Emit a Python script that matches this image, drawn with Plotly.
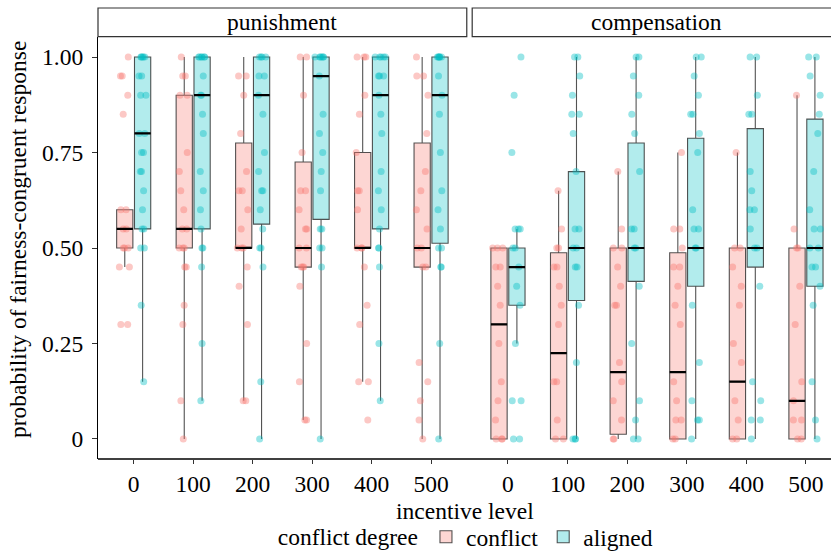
import plotly.graph_objects as go

levels = ["0", "100", "200", "300", "400", "500"]

# Box statistics
pun_conf_q1 = [0.5, 0.5, 0.5, 0.45, 0.5, 0.45]
pun_conf_med = [0.55, 0.55, 0.5, 0.5, 0.5, 0.5]
pun_conf_q3 = [0.6, 0.9, 0.775, 0.725, 0.75, 0.775]
pun_conf_lo = [0.45, 0.0, 0.1, 0.05, 0.15, 0.0]
pun_conf_hi = [0.6, 1.0, 1.0, 1.0, 1.0, 1.0]

pun_alig_q1 = [0.55, 0.55, 0.5625, 0.575, 0.55, 0.5125]
pun_alig_med = [0.8, 0.9, 0.9, 0.95, 0.9, 0.9]
pun_alig_q3 = [1.0, 1.0, 1.0, 1.0, 1.0, 1.0]
pun_alig_lo = [0.15, 0.1, 0.0, 0.0, 0.1, 0.0]
pun_alig_hi = [1.0, 1.0, 1.0, 1.0, 1.0, 1.0]

com_conf_q1 = [0.0, 0.0, 0.0125, 0.0, 0.0, 0.0]
com_conf_med = [0.3, 0.225, 0.175, 0.175, 0.15, 0.1]
com_conf_q3 = [0.5, 0.4875, 0.5, 0.4875, 0.5, 0.5]
com_conf_lo = [0.0, 0.0, 0.0, 0.0, 0.0, 0.0]
com_conf_hi = [0.5, 0.65, 0.7, 0.75, 0.75, 0.9]

com_alig_q1 = [0.35, 0.3625, 0.4125, 0.4, 0.45, 0.4]
com_alig_med = [0.45, 0.5, 0.5, 0.5, 0.5, 0.5]
com_alig_q3 = [0.5, 0.7, 0.775, 0.7875, 0.8125, 0.8375]
com_alig_lo = [0.25, 0.0, 0.0, 0.0, 0.0, 0.0]
com_alig_hi = [0.55, 1.0, 1.0, 1.0, 1.0, 1.0]

# Individual responses (one list per incentive level)
pun_conf_pts = [
    [1.0, 0.95, 0.95, 0.9, 0.85, 0.6, 0.6, 0.55, 0.55, 0.5, 0.5, 0.5, 0.45, 0.45, 0.3, 0.3],
    [1.0, 0.95, 0.95, 0.9, 0.9, 0.75, 0.7, 0.65, 0.6, 0.55, 0.55, 0.5, 0.5, 0.5, 0.45, 0.45, 0.35, 0.3, 0.1, 0.0],
    [0.95, 0.95, 0.9, 0.8, 0.7, 0.65, 0.65, 0.6, 0.55, 0.5, 0.5, 0.5, 0.45, 0.4, 0.3, 0.1, 0.1],
    [1.0, 1.0, 0.9, 0.75, 0.65, 0.65, 0.6, 0.55, 0.55, 0.5, 0.5, 0.45, 0.45, 0.45, 0.4, 0.25, 0.15, 0.05, 0.05],
    [1.0, 1.0, 1.0, 0.9, 0.85, 0.75, 0.65, 0.65, 0.6, 0.5, 0.5, 0.5, 0.45, 0.35, 0.3, 0.15, 0.15, 0.05],
    [1.0, 0.95, 0.95, 0.9, 0.8, 0.7, 0.65, 0.6, 0.55, 0.5, 0.5, 0.45, 0.45, 0.2, 0.15, 0.1, 0.05, 0.0],
]
pun_alig_pts = [
    [1, 1, 1, 1, 1, 0.95, 0.95, 0.9, 0.9, 0.8, 0.8, 0.75, 0.75, 0.7, 0.7, 0.65, 0.6, 0.55, 0.55, 0.5, 0.5, 0.35, 0.15],
    [1, 1, 1, 1, 1, 1, 0.95, 0.9, 0.9, 0.85, 0.8, 0.7, 0.65, 0.6, 0.55, 0.5, 0.5, 0.45, 0.25, 0.1],
    [1, 1, 1, 1, 0.95, 0.95, 0.9, 0.85, 0.75, 0.7, 0.65, 0.65, 0.6, 0.55, 0.5, 0.5, 0.45, 0.15, 0.0],
    [1, 1, 1, 1, 1, 1, 0.95, 0.85, 0.8, 0.75, 0.7, 0.65, 0.55, 0.55, 0.5, 0.5, 0.45, 0.0],
    [1, 1, 1, 1, 1, 0.95, 0.95, 0.95, 0.9, 0.85, 0.8, 0.7, 0.65, 0.6, 0.55, 0.5, 0.5, 0.45, 0.25, 0.1],
    [1, 1, 1, 1, 1, 1, 0.95, 0.9, 0.85, 0.75, 0.65, 0.6, 0.55, 0.5, 0.5, 0.45, 0.45, 0.25, 0.0],
]
com_conf_pts = [
    [0.5, 0.5, 0.5, 0.45, 0.45, 0.4, 0.35, 0.25, 0.15, 0.1, 0.05, 0, 0, 0],
    [0.65, 0.55, 0.5, 0.5, 0.45, 0.45, 0.4, 0.35, 0.3, 0.15, 0.15, 0.05, 0, 0],
    [0.7, 0.55, 0.5, 0.5, 0.45, 0.4, 0.35, 0.35, 0.2, 0.15, 0.1, 0.05, 0, 0],
    [0.75, 0.55, 0.55, 0.5, 0.45, 0.45, 0.4, 0.35, 0.3, 0.15, 0.1, 0.05, 0.05, 0, 0],
    [0.75, 0.5, 0.5, 0.45, 0.4, 0.35, 0.25, 0.2, 0.1, 0.05, 0, 0],
    [0.9, 0.55, 0.5, 0.5, 0.4, 0.3, 0.15, 0.1, 0.05, 0.05, 0, 0],
]
com_alig_pts = [
    [1.0, 0.9, 0.75, 0.55, 0.55, 0.55, 0.5, 0.5, 0.45, 0.4, 0.35, 0.25, 0.1, 0.1, 0, 0],
    [1, 1, 0.95, 0.9, 0.85, 0.85, 0.8, 0.7, 0.55, 0.55, 0.5, 0.5, 0.45, 0.45, 0.35, 0.2, 0, 0, 0],
    [1, 1, 0.95, 0.9, 0.85, 0.8, 0.7, 0.55, 0.55, 0.5, 0.5, 0.4, 0.25, 0.1, 0.05, 0, 0],
    [1, 1, 0.95, 0.9, 0.85, 0.85, 0.8, 0.75, 0.6, 0.55, 0.55, 0.5, 0.5, 0.35, 0.2, 0.1, 0.05, 0.05, 0],
    [1, 1, 0.9, 0.85, 0.85, 0.7, 0.65, 0.6, 0.6, 0.55, 0.5, 0.5, 0.4, 0.15, 0.1, 0.05, 0.05, 0],
    [1, 1, 0.95, 0.9, 0.85, 0.8, 0.7, 0.6, 0.55, 0.55, 0.5, 0.5, 0.45, 0.45, 0.4, 0.35, 0.15, 0.05, 0],
]

FONT = "Liberation Serif, Times New Roman, serif"
FS = 23.5
COL = {"conflict": (248, 118, 109), "aligned": (0, 191, 196)}

fig = go.Figure()


def rgba(c, a):
    return "rgba(%d,%d,%d,%.2f)" % (c[0], c[1], c[2], a)


panels = [
    ("x", "pun", [
        ("conflict", pun_conf_q1, pun_conf_med, pun_conf_q3, pun_conf_lo, pun_conf_hi, pun_conf_pts),
        ("aligned", pun_alig_q1, pun_alig_med, pun_alig_q3, pun_alig_lo, pun_alig_hi, pun_alig_pts),
    ]),
    ("x2", "com", [
        ("conflict", com_conf_q1, com_conf_med, com_conf_q3, com_conf_lo, com_conf_hi, com_conf_pts),
        ("aligned", com_alig_q1, com_alig_med, com_alig_q3, com_alig_lo, com_alig_hi, com_alig_pts),
    ]),
]

for xa, pname, series in panels:
    # boxes
    for name, q1, med, q3, lo, hi, pts in series:
        c = COL[name]
        fig.add_trace(go.Box(
            x=levels, q1=q1, median=med, q3=q3, lowerfence=lo, upperfence=hi,
            name=name, legendgroup=name, showlegend=(xa == "x"),
            offsetgroup=name, alignmentgroup=pname,
            fillcolor=rgba(c, 0.3), line=dict(color="rgba(40,40,40,0.8)", width=1.1),
            whiskerwidth=0, boxpoints=False, xaxis=xa, yaxis="y", hoverinfo="skip",
        ))
    # jittered points
    for name, q1, med, q3, lo, hi, pts in series:
        c = COL[name]
        xs, ys = [], []
        for lev, vals in zip(levels, pts):
            xs += [lev] * len(vals)
            ys += vals
        fig.add_trace(go.Box(
            x=xs, y=ys, name=name, legendgroup=name, showlegend=False,
            offsetgroup=name, alignmentgroup=pname,
            boxpoints="all", jitter=0.8, pointpos=0,
            fillcolor="rgba(0,0,0,0)", line=dict(color="rgba(0,0,0,0)", width=0),
            marker=dict(color=rgba(c, 0.4), size=7, line=dict(width=0)),
            whiskerwidth=0, xaxis=xa, yaxis="y", hoverinfo="skip",
        ))
    # thick median lines
    for name, q1, med, q3, lo, hi, pts in series:
        fig.add_trace(go.Box(
            x=levels, q1=med, median=med, q3=med, lowerfence=med, upperfence=med,
            name=name, legendgroup=name, showlegend=False,
            offsetgroup=name, alignmentgroup=pname,
            fillcolor="rgba(0,0,0,0)", line=dict(color="black", width=2.2),
            whiskerwidth=0, boxpoints=False, xaxis=xa, yaxis="y", hoverinfo="skip",
        ))

axis_common = dict(
    type="category", categoryorder="array", categoryarray=levels,
    showgrid=False, zeroline=False, showline=False, automargin=False,
    ticks="outside", ticklen=4, tickwidth=1, tickcolor="#333333",
    tickfont=dict(family=FONT, size=FS, color="black"),
)

fig.update_layout(
    width=831, height=557, autosize=False,
    margin=dict(l=98, r=0, t=37, b=98, autoexpand=False),
    paper_bgcolor="white", plot_bgcolor="white",
    boxmode="group", boxgap=0.4, boxgroupgap=0.09,
    xaxis=dict(domain=[0, 0.5031], range=[-0.6, 5.6], anchor="y", **axis_common),
    xaxis2=dict(domain=[0.5105, 1], range=[-0.6, 5.42], anchor="y", **axis_common),
    yaxis=dict(
        domain=[0, 1], range=[-0.0524, 1.0524], automargin=False,
        tickvals=[0, 0.25, 0.5, 0.75, 1.0], ticktext=["0", "0.25", "0.50", "0.75", "1.00"],
        showgrid=False, zeroline=False, showline=True, linecolor="black", linewidth=1.3,
        ticks="outside", ticklen=5, tickwidth=1, tickcolor="#333333", ticklabelstandoff=4,
        tickfont=dict(family=FONT, size=FS, color="black"),
    ),
    legend=dict(
        orientation="h", x=0.503, xanchor="center", yref="container", y=0.036, yanchor="middle",
        title=dict(text="conflict degree", font=dict(family=FONT, size=FS, color="black"), side="left"),
        font=dict(family=FONT, size=FS, color="black"),
        itemwidth=30, tracegroupgap=0, bgcolor="rgba(0,0,0,0)",
    ),
    showlegend=True,
)

# continuous bottom axis line under both panels
fig.add_shape(type="line", xref="paper", yref="paper", x0=0, x1=1.02, y0=0, y1=0,
              line=dict(color="black", width=1.3))

# facet strips
strip_y0, strip_y1 = 1.0007, 1.0687
for x0, x1, label, xc in [(0, 0.5031, "punishment", 0.2515), (0.5105, 1.015, "compensation", 0.7625)]:
    fig.add_shape(type="rect", xref="paper", yref="paper", x0=x0, x1=x1, y0=strip_y0, y1=strip_y1,
                  line=dict(color="#333333", width=1.2), fillcolor="white")
    fig.add_annotation(x=xc, y=(strip_y0 + strip_y1) / 2, xref="paper", yref="paper",
                       text=label, showarrow=False, xanchor="center", yanchor="middle",
                       font=dict(family=FONT, size=FS, color="black"))

# axis titles
fig.add_annotation(x=0.5, y=-0.123, xref="paper", yref="paper", text="incentive level",
                   showarrow=False, xanchor="center", yanchor="middle",
                   font=dict(family=FONT, size=FS, color="black"))
fig.add_annotation(x=-0.109, y=0.519, xref="paper", yref="paper",
                   text="probability of fairness-congruent response", textangle=-90,
                   showarrow=False, xanchor="center", yanchor="middle",
                   font=dict(family=FONT, size=FS, color="black"))

fig.write_html("out.html", config={"displayModeBar": False},
               post_script="document.body.style.margin='0';document.body.style.overflow='hidden';")
